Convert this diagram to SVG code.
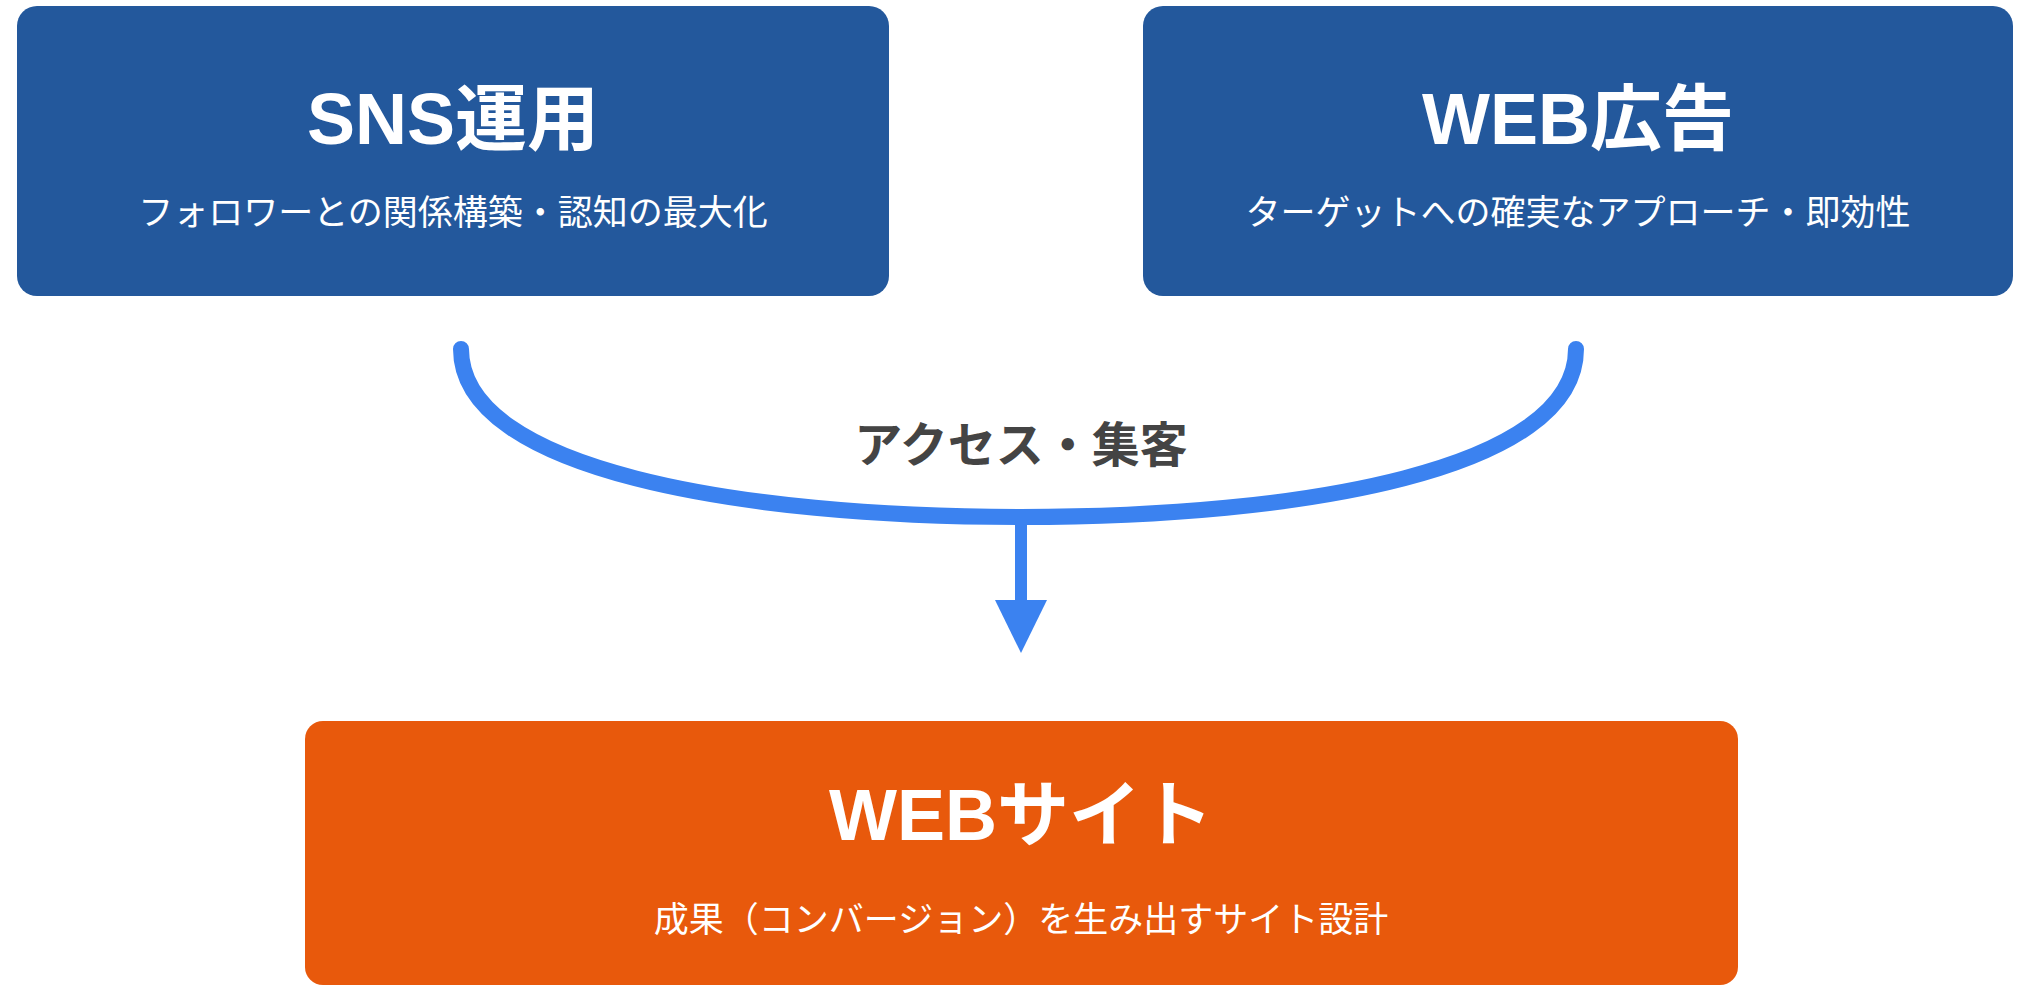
<svg xmlns="http://www.w3.org/2000/svg" width="2026" height="1000" viewBox="0 0 2026 1000">
<style>
.t{font-family:"Liberation Sans","Noto Sans CJK JP",sans-serif;fill:#fff;text-anchor:middle}
.h{font-size:72px;font-weight:bold}
.s{font-size:35px}
.blue{fill:#23589C}
.orange{fill:#E8590C}
</style>
<rect width="2026" height="1000" fill="#fff"/>
<g id="sns">
<rect class="blue" x="17" y="6" width="872" height="290" rx="20"/>
<text class="t h" x="453" y="144">SNS運用</text>
<text class="t s" x="453" y="225">フォロワーとの関係構築・認知の最大化</text>
</g>
<g id="webad">
<rect class="blue" x="1143" y="6" width="870" height="290" rx="20"/>
<text class="t h" x="1578" y="144">WEB広告</text>
<text class="t s" x="1578" y="225">ターゲットへの確実なアプローチ・即効性</text>
</g>
<g id="connectors">
<path d="M461,349 C461,470 740,517 1021,517 C1302,517 1576,470 1576,349" fill="none" stroke="#3B82F0" stroke-width="16" stroke-linecap="round"/>
<line x1="1021" y1="517" x2="1021" y2="602" stroke="#3B82F0" stroke-width="12"/>
<polygon points="995,600 1047,600 1021,653" fill="#3B82F0"/>
<text x="1021" y="462" font-family="'Liberation Sans','Noto Sans CJK JP',sans-serif" font-size="48" font-weight="bold" fill="#444" text-anchor="middle">アクセス・集客</text>
</g>
<g id="website">
<rect class="orange" x="305" y="721" width="1433" height="264" rx="18"/>
<text class="t h" x="1021" y="840">WEBサイト</text>
<text class="t s" x="1021" y="932">成果（コンバージョン）を生み出すサイト設計</text>
</g>
</svg>
